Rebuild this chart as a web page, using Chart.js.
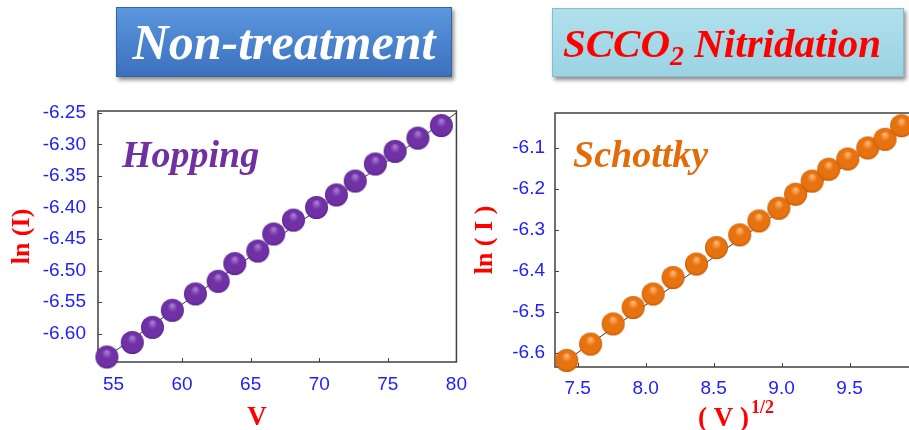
<!DOCTYPE html>
<html><head><meta charset="utf-8">
<script src="https://cdn.jsdelivr.net/npm/chart.js@4.4.1/dist/chart.umd.min.js"></script>
<style>
html,body{margin:0;padding:0;background:#fff;}
#page{position:relative;width:909px;height:430px;overflow:hidden;background:#fff;}
canvas{position:absolute;top:0;}
#c1{left:0;}
#c2{left:460px;}
.box{position:absolute;z-index:2;display:flex;align-items:center;justify-content:center;font-family:'Liberation Serif','Times New Roman',serif;font-weight:bold;font-style:italic;white-space:nowrap;box-sizing:border-box;}
#b1{left:116px;top:7px;width:336px;height:70px;background:linear-gradient(#5b97de,#3b70bd);border:1px solid #35649f;color:#fff;font-size:50px;box-shadow:2px 3px 4px rgba(0,0,0,.45);}
#b2{left:552px;top:8px;width:352px;height:69px;padding-right:12px;background:linear-gradient(#b0e0ec,#9bd3e3);border:1px solid #86bccb;color:#ff0000;font-size:41px;box-shadow:2px 3px 4px rgba(0,0,0,.45);}
#b2 sub{font-size:28px;vertical-align:-8px;line-height:0;}
</style></head>
<body>
<div id="page">
  <canvas id="c1" width="470" height="430"></canvas>
  <canvas id="c2" width="470" height="430"></canvas>
  <div class="box" id="b1">Non-treatment</div>
  <div class="box" id="b2"><span>SCCO<sub>2</sub> Nitridation</span></div>
</div>
<script>
// ---- data: Non-treatment (Hopping) ----
const hopV = [54.52,56.37,57.84,59.29,60.97,62.63,63.84,65.52,66.68,68.12,69.80,71.25,72.62,74.09,75.53,77.19,78.90];
const hopLnI = [-6.637,-6.614,-6.590,-6.563,-6.537,-6.517,-6.489,-6.469,-6.442,-6.420,-6.400,-6.380,-6.358,-6.331,-6.311,-6.290,-6.270];
const hopFitV = [53.9, 80];
const hopFitLnI = [-6.646, -6.250];
const hopXTicks = [55, 60, 65, 70, 75, 80];
const hopYTicks = [-6.60, -6.55, -6.50, -6.45, -6.40, -6.35, -6.30, -6.25];

// ---- data: SCCO2 Nitridation (Schottky) ----
const schSqrtV = [7.419,7.595,7.761,7.908,8.055,8.202,8.374,8.521,8.692,8.833,8.980,9.103,9.225,9.347,9.487,9.634,9.761,9.883];
const schLnI = [-6.618,-6.578,-6.529,-6.489,-6.456,-6.416,-6.383,-6.343,-6.312,-6.278,-6.247,-6.213,-6.181,-6.152,-6.127,-6.100,-6.079,-6.046];
const schFitSqrtV = [7.34, 10.0];
const schFitLnI = [-6.636, -6.019];
const schXTicks = [7.5, 8.0, 8.5, 9.0, 9.5];
const schYTicks = [-6.6, -6.5, -6.4, -6.3, -6.2, -6.1];

function sphere(r, light, mid, dark) {
  const s = Math.ceil(r * 2) + 2;
  const c = document.createElement('canvas');
  c.width = s; c.height = s;
  const g = c.getContext('2d');
  const cx = s / 2;
  const grd = g.createRadialGradient(cx, cx - r * 0.45, r * 0.05, cx, cx, r);
  grd.addColorStop(0, light);
  grd.addColorStop(0.4, mid);
  grd.addColorStop(0.85, mid);
  grd.addColorStop(1, dark);
  g.fillStyle = grd;
  g.beginPath(); g.arc(cx, cx, r, 0, Math.PI * 2); g.fill();
  return c;
}

const frame = {
  id: 'frame',
  beforeDatasetsDraw(chart, args, opts) {
    const {ctx, chartArea: a, scales: {x, y}} = chart;
    ctx.save();
    ctx.strokeStyle = opts.color;
    ctx.lineWidth = 1.5;
    ctx.strokeRect(a.left, a.top, a.right - a.left, a.bottom - a.top);
    ctx.lineWidth = 1;
    ctx.beginPath();
    x.ticks.forEach(t => { const p = Math.round(x.getPixelForValue(t.value)) + 0.5; ctx.moveTo(p, a.bottom); ctx.lineTo(p, a.bottom - 4); });
    y.ticks.forEach(t => { const p = Math.round(y.getPixelForValue(t.value)) + 0.5; ctx.moveTo(a.left, p); ctx.lineTo(a.left + 4, p); });
    ctx.stroke();
    ctx.restore();
  }
};

const texts = {
  id: 'texts',
  afterDraw(chart, args, opts) {
    const {ctx, chartArea: a} = chart;
    (opts.items || []).forEach(it => {
      ctx.save();
      ctx.font = it.font;
      ctx.fillStyle = it.color;
      ctx.textBaseline = 'alphabetic';
      ctx.textAlign = it.align || 'left';
      const x = a.left + it.dx;
      const y = it.fromBottom ? a.bottom + it.dy : a.top + it.dy;
      ctx.fillText(it.text, x, y);
      if (it.sup) {
        const w = ctx.measureText(it.text).width;
        ctx.font = it.sup.font;
        ctx.textAlign = 'left';
        ctx.fillText(it.sup.text, x + w + it.sup.gap, y + it.sup.dy);
      }
      ctx.restore();
    });
  }
};

const tickFont = {family: "'Liberation Sans', Arial, sans-serif", size: 19};
const tickColor = '#2020ff';
const serifBold = "'Liberation Serif', 'Times New Roman', serif";

function makeChart(id, cfg) {
  return new Chart(document.getElementById(id), {
    type: 'scatter',
    data: {
      datasets: [
        {data: cfg.xs.map((v, i) => ({x: v, y: cfg.ys[i]})), pointStyle: cfg.marker, pointRadius: 11.5, pointHoverRadius: 11.5, showLine: false, clip: false},
        {data: cfg.fx.map((v, i) => ({x: v, y: cfg.fy[i]})), showLine: true, pointRadius: 0, borderColor: '#333', borderWidth: 1, fill: false}
      ]
    },
    options: {
      responsive: false,
      animation: false,
      layout: {padding: {top: cfg.top, right: 12, left: 0, bottom: 0}},
      plugins: {
        legend: {display: false},
        tooltip: {enabled: false},
        frame: {color: '#404040'},
        texts: {items: cfg.texts}
      },
      scales: {
        x: {
          type: 'linear', min: cfg.xmin, max: cfg.xmax,
          grid: {display: false}, border: {display: false},
          ticks: {font: tickFont, color: tickColor, padding: cfg.xpad, maxRotation: 0, callback: cfg.xfmt},
          afterBuildTicks: s => { s.ticks = cfg.xticks.map(v => ({value: v})); },
          afterFit: s => { s.height = cfg.xh; }
        },
        y: {
          type: 'linear', min: cfg.ymin, max: cfg.ymax,
          grid: {display: false}, border: {display: false},
          ticks: {font: tickFont, color: tickColor, padding: cfg.ypad, callback: cfg.yfmt},
          afterBuildTicks: s => { s.ticks = cfg.yticks.map(v => ({value: v})); },
          afterFit: s => { s.width = cfg.yw; },
          title: {display: true, text: cfg.ytitle, color: '#ff0000', font: {family: serifBold, size: 26, weight: 'bold'}, padding: {top: cfg.ytpad, bottom: 0}}
        }
      }
    },
    plugins: [frame, texts]
  });
}

makeChart('c1', {
  xs: hopV, ys: hopLnI, fx: hopFitV, fy: hopFitLnI,
  marker: sphere(11.5, '#a77fd2', '#7131a6', '#55218a'),
  xmin: 53.87, xmax: 80, ymin: -6.645, ymax: -6.247,
  xticks: hopXTicks, yticks: hopYTicks,
  xfmt: v => String(v), yfmt: v => v.toFixed(2),
  top: 111, xh: 68, yw: 98, xpad: 3, ypad: 4, ytpad: 7,
  ytitle: 'ln (I)',
  texts: [
    {text: 'Hopping', font: `italic bold 38px ${serifBold}`, color: '#7030a0', dx: 24, dy: 56},
    {text: 'V', font: `bold 27px ${serifBold}`, color: '#ff0000', align: 'center', dx: 159, dy: 63, fromBottom: true}
  ]
});

makeChart('c2', {
  xs: schSqrtV, ys: schLnI, fx: schFitSqrtV, fy: schFitLnI,
  marker: sphere(11.5, '#ffb878', '#e8720e', '#c45806'),
  xmin: 7.333, xmax: 10.0, ymin: -6.634, ymax: -6.015,
  xticks: schXTicks, yticks: schYTicks,
  xfmt: v => v.toFixed(1), yfmt: v => v.toFixed(1),
  top: 113, xh: 63, yw: 95, xpad: 2, ypad: 2, ytpad: 10,
  ytitle: 'ln ( I )',
  texts: [
    {text: 'Schottky', font: `italic bold 38px ${serifBold}`, color: '#e36c0a', dx: 18, dy: 54},
    {text: '( V )', font: `bold 27px ${serifBold}`, color: '#ff0000', dx: 143, dy: 59, fromBottom: true,
      sup: {text: '1/2', font: `bold 18px ${serifBold}`, gap: 2, dy: -13}}
  ]
});
</script>
</body></html>
